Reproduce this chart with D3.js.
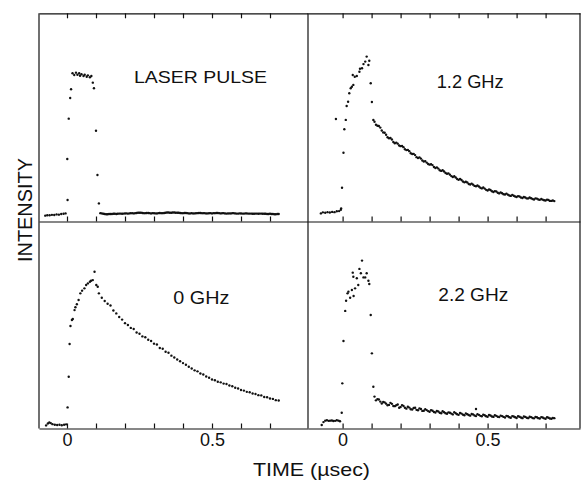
<!DOCTYPE html>
<html>
<head>
<meta charset="utf-8">
<script src="https://cdn.jsdelivr.net/npm/d3@7"></script>
<style>
  body { margin: 0; background: #fff; }
  svg { display: block; }
  text { font-family: "Liberation Sans", Arial, sans-serif; fill: #111; }
</style>
</head>
<body>
<div id="chart"></div>
<script>
// values; time in µs, intensity in arbitrary units (0-100 = panel height)
const tickTimes = [0, 0.1, 0.2, 0.3, 0.4, 0.5, 0.6, 0.7];
const tickLabels = ["0", "", "", "", "", "0.5", "", ""];

// channel times shared by the tails
const tailTimes = [
  0.11, 0.12, 0.13, 0.14, 0.15, 0.16, 0.17, 0.18, 0.19, 0.20,
  0.21, 0.22, 0.23, 0.24, 0.25, 0.26, 0.27, 0.28, 0.29, 0.30,
  0.31, 0.32, 0.33, 0.34, 0.35, 0.36, 0.37, 0.38, 0.39, 0.40,
  0.41, 0.42, 0.43, 0.44, 0.45, 0.46, 0.47, 0.48, 0.49, 0.50,
  0.51, 0.52, 0.53, 0.54, 0.55, 0.56, 0.57, 0.58, 0.59, 0.60,
  0.61, 0.62, 0.63, 0.64, 0.65, 0.66, 0.67, 0.68, 0.69, 0.70,
  0.71, 0.72, 0.73
];
// in-between channels (denser traces)
const midTimes = [
  0.115, 0.125, 0.135, 0.145, 0.155, 0.165, 0.175, 0.185, 0.195, 0.205,
  0.215, 0.225, 0.235, 0.245, 0.255, 0.265, 0.275, 0.285, 0.295, 0.305,
  0.315, 0.325, 0.335, 0.345, 0.355, 0.365, 0.375, 0.385, 0.395, 0.405,
  0.415, 0.425, 0.435, 0.445, 0.455, 0.465, 0.475, 0.485, 0.495, 0.505,
  0.515, 0.525, 0.535, 0.545, 0.555, 0.565, 0.575, 0.585, 0.595, 0.605,
  0.615, 0.625, 0.635, 0.645, 0.655, 0.665, 0.675, 0.685, 0.695, 0.705,
  0.715, 0.725
];

// LASER PULSE
const laserHead = [
  [-0.075, 2.8], [-0.068, 3.0], [-0.060, 3.0], [-0.052, 3.2], [-0.044, 3.1], [-0.036, 3.4],
  [-0.028, 3.3], [-0.020, 3.6], [-0.012, 3.7], [-0.005, 3.9],
  [0.002, 10.3], [0.001, 30.0], [0.006, 49.4], [0.011, 59.3], [0.014, 63.5],
  [0.019, 71.2], [0.025, 70.4], [0.031, 71.5], [0.036, 70.5], [0.042, 71.2], [0.045, 70.0],
  [0.050, 70.7], [0.057, 69.9], [0.061, 70.5], [0.068, 69.5], [0.072, 70.2], [0.079, 69.3],
  [0.084, 69.9], [0.089, 66.7], [0.093, 64.0],
  [0.100, 43.6], [0.105, 22.3]
];
const laserTail = [
  8.7, 3.9, 3.6, 3.5, 3.6, 3.7, 3.6, 3.8, 3.7, 3.9,
  3.8, 4.0, 3.9, 4.1, 4.2, 4.1, 4.0, 4.1, 3.9, 4.0,
  3.9, 4.1, 4.0, 4.2, 4.3, 4.2, 4.3, 4.2, 4.1, 4.0,
  4.1, 3.9, 4.0, 3.9, 4.0, 4.1, 4.0, 3.9, 4.0, 3.9,
  4.0, 4.1, 3.9, 4.0, 3.8, 3.9, 4.0, 3.9, 3.8, 3.9,
  3.8, 3.9, 3.8, 3.7, 3.8, 3.7, 3.8, 3.7, 3.6, 3.7,
  3.6, 3.5, 3.6
];
const laserMid = [
  4.0, 3.7, 3.5, 3.6, 3.6, 3.7, 3.7, 3.8, 3.8, 3.9,
  3.9, 4.0, 4.0, 4.2, 4.2, 4.0, 4.1, 4.0, 4.0, 3.9,
  4.0, 4.0, 4.1, 4.3, 4.2, 4.3, 4.2, 4.2, 4.0, 4.1,
  4.0, 3.9, 3.9, 4.0, 4.1, 4.0, 4.0, 3.9, 4.0, 4.0,
  4.1, 4.0, 4.0, 3.9, 3.9, 3.9, 4.0, 3.8, 3.9, 3.8,
  3.9, 3.8, 3.8, 3.7, 3.8, 3.8, 3.7, 3.7, 3.6, 3.6,
  3.5, 3.6
];

// 1.2 GHz
const ghz12Head = [
  [-0.075, 3.9], [-0.068, 4.4], [-0.060, 4.2], [-0.052, 4.5], [-0.044, 4.3], [-0.036, 4.6],
  [-0.028, 4.5], [-0.020, 4.9], [-0.012, 5.0], [-0.006, 5.6],
  [-0.023, 49.2],
  [-0.005, 6.3], [-0.002, 16.2], [0.003, 33.0], [0.006, 44.3], [0.011, 48.8], [0.014, 55.5],
  [0.019, 57.5], [0.023, 61.6], [0.028, 64.0], [0.032, 64.7], [0.035, 70.4], [0.037, 65.6],
  [0.042, 69.5], [0.049, 69.9], [0.058, 71.9], [0.060, 73.4], [0.067, 73.6], [0.072, 75.6],
  [0.078, 76.8], [0.083, 79.2], [0.089, 75.2], [0.092, 77.2], [0.097, 66.4], [0.101, 57.4],
  [0.106, 48.8]
];
const ghz12Tail = [
  47.9, 46.0, 45.1, 42.8, 41.7, 40.0, 39.4, 37.6, 37.4, 36.2,
  35.7, 34.3, 33.8, 32.4, 31.9, 30.5, 30.2, 28.8, 28.3, 27.3,
  27.1, 25.7, 25.4, 24.3, 24.0, 22.9, 22.5, 21.4, 21.1, 20.0,
  19.9, 18.8, 18.7, 17.8, 17.7, 16.9, 16.8, 15.9, 15.8, 14.9,
  15.1, 14.2, 14.4, 13.5, 13.6, 13.0, 12.9, 12.3, 12.4, 11.8,
  12.0, 11.3, 11.5, 11.1, 11.2, 10.6, 11.0, 10.4, 10.5, 10.1,
  10.3, 9.9, 9.8
];
const ghz12Mid = [
  46.5, 45.9, 43.7, 42.6, 40.5, 40.1, 38.2, 37.9, 36.5, 36.3,
  34.7, 34.4, 32.8, 32.5, 30.9, 30.8, 29.3, 29.0, 27.6, 27.5,
  26.2, 26.0, 24.6, 24.6, 23.3, 23.1, 21.8, 21.7, 20.4, 20.4,
  19.2, 19.1, 18.0, 18.2, 17.1, 17.3, 16.2, 16.3, 15.2, 15.4,
  14.5, 14.6, 13.8, 14.0, 13.1, 13.4, 12.5, 12.8, 12.0, 12.2,
  11.5, 11.8, 11.1, 11.5, 10.8, 11.1, 10.6, 10.8, 10.2, 10.5,
  9.9, 10.1
];

// 0 GHz
const ghz0Head = [
  [-0.072, 1.5], [-0.066, 2.4], [-0.061, 2.9], [-0.056, 2.6], [-0.050, 2.1], [-0.042, 1.8],
  [-0.034, 1.7], [-0.026, 1.8], [-0.018, 1.6], [-0.010, 1.8], [-0.003, 2.0],
  [0.002, 10.2], [0.006, 25.0], [0.009, 40.8], [0.012, 49.5], [0.017, 52.4], [0.020, 52.9],
  [0.026, 57.2], [0.029, 58.6], [0.034, 60.0], [0.040, 62.1], [0.046, 65.3], [0.052, 66.6],
  [0.060, 67.7], [0.066, 69.3], [0.072, 70.1], [0.079, 70.9], [0.083, 71.4], [0.089, 71.7],
  [0.095, 75.7], [0.101, 69.3], [0.106, 68.5]
];
const ghz0Tail = [
  65.3, 63.2, 61.6, 60.3, 59.4, 57.0, 55.6, 53.9, 52.6, 50.9,
  50.0, 48.6, 48.1, 46.4, 45.8, 44.5, 44.1, 42.9, 42.3, 41.0,
  40.6, 38.9, 38.5, 37.1, 36.6, 35.2, 34.3, 33.3, 32.5, 31.6,
  30.8, 29.8, 29.0, 28.1, 27.6, 26.6, 26.1, 25.1, 24.5, 23.7,
  23.3, 22.6, 22.3, 21.7, 21.5, 20.8, 20.4, 19.7, 19.3, 18.6,
  18.3, 17.7, 17.5, 16.9, 16.7, 16.1, 16.0, 15.2, 15.1, 14.5,
  14.3, 13.7, 13.5
];
const ghz0Mid = [];

// 2.2 GHz
const ghz22Head = [
  [-0.072, 1.7], [-0.066, 3.1], [-0.060, 3.8], [-0.054, 4.0], [-0.048, 3.7], [-0.043, 3.8],
  [-0.037, 3.9], [-0.032, 3.6], [-0.026, 3.7], [-0.020, 4.0], [-0.014, 3.8], [-0.009, 3.5],
  [-0.003, 7.6],
  [-0.001, 21.8], [0.003, 42.3], [0.009, 56.8], [0.012, 61.7], [0.017, 65.3], [0.020, 66.1],
  [0.026, 63.2], [0.032, 66.9], [0.035, 75.3], [0.037, 73.3], [0.038, 64.0], [0.043, 67.7],
  [0.049, 72.6], [0.054, 69.3], [0.058, 77.1], [0.063, 75.0], [0.067, 81.1], [0.072, 73.0],
  [0.078, 73.0], [0.083, 75.0], [0.089, 71.4], [0.092, 69.8], [0.097, 54.8], [0.101, 36.3],
  [0.106, 20.2],
  [0.46, 9.4]
];
const ghz22Tail = [
  15.4, 14.2, 13.0, 12.8, 12.0, 11.4, 11.9, 10.8, 11.6, 10.4,
  10.9, 9.6, 10.1, 9.2, 10.0, 8.8, 9.4, 8.6, 8.9, 8.1,
  8.6, 7.7, 8.2, 7.4, 7.9, 7.1, 7.6, 6.8, 7.4, 6.6,
  7.2, 6.4, 6.9, 6.2, 6.8, 6.0, 6.6, 5.9, 6.4, 5.7,
  6.3, 5.6, 6.1, 5.5, 6.0, 5.3, 5.9, 5.2, 5.8, 5.1,
  5.7, 5.0, 5.6, 5.0, 5.5, 4.9, 5.4, 4.8, 5.3, 4.7,
  5.2, 4.7, 5.0
];
const ghz22Mid = [
  13.6, 14.0, 12.1, 12.6, 11.2, 12.4, 10.9, 11.2, 10.0, 11.3,
  10.0, 10.5, 9.3, 9.9, 9.0, 9.7, 8.5, 9.3, 8.4, 8.9,
  8.0, 8.5, 7.6, 8.3, 7.4, 7.8, 7.2, 7.9, 6.9, 7.5,
  6.7, 7.3, 6.5, 7.0, 6.3, 6.9, 6.1, 6.7, 5.9, 6.5,
  5.8, 6.4, 5.7, 6.2, 5.6, 6.1, 5.4, 6.0, 5.4, 5.9,
  5.3, 5.8, 5.2, 5.7, 5.1, 5.6, 5.0, 5.5, 4.9, 5.4,
  4.8, 5.1
];

function main() {
    let width = 581;
    let height = 480;

    let svg = d3.select("#chart").append("svg")
        .attr("width", width)
        .attr("height", height);

    // layout of the 2x2 grid (pixels)
    const colX = { left: [39, 308], right: [308, 580] };
    const zeroX = { left: 67, right: 342.6 };
    const rowY = { top: [13.3, 221.5], bottom: [221.5, 428.5] };
    const pxPerUs = 290;

    function xScaleFor(col) {
        let [x1, x2] = colX[col];
        return d3.scaleLinear()
            .domain([(x1 - zeroX[col]) / pxPerUs, (x2 - zeroX[col]) / pxPerUs])
            .range([x1, x2]);
    }
    function yScaleFor(row) {
        return d3.scaleLinear().domain([0, 100]).range([rowY[row][1], rowY[row][0]]);
    }

    const panels = [
        { label: "LASER PULSE", head: laserHead, tail: laserTail, mid: laserMid, col: "left", row: "top",
          lx: 134, ly: 83.3, lw: 133, fs: 17 },
        { label: "1.2 GHz", head: ghz12Head, tail: ghz12Tail, mid: ghz12Mid, col: "right", row: "top",
          lx: 436.7, ly: 88.3, lw: 67, fs: 18 },
        { label: "0 GHz", head: ghz0Head, tail: ghz0Tail, mid: ghz0Mid, col: "left", row: "bottom",
          lx: 173.3, ly: 304, lw: 56, fs: 18 },
        { label: "2.2 GHz", head: ghz22Head, tail: ghz22Tail, mid: ghz22Mid, col: "right", row: "bottom",
          lx: 438.3, ly: 300.7, lw: 70, fs: 18 }
    ];

    panels.forEach(function(p) {
        let x = xScaleFor(p.col);
        let y = yScaleFor(p.row);
        let g = svg.append("g");

        // bottom axis, ticks pointing up into the panel
        let bottom = g.append("g")
            .attr("transform", "translate(0," + rowY[p.row][1] + ")")
            .call(d3.axisBottom(x)
                .tickValues(tickTimes)
                .tickSizeInner(-5)
                .tickSizeOuter(0)
                .tickPadding(5)
                .tickFormat(function(d, i) { return p.row === "bottom" ? tickLabels[i] : ""; }));
        bottom.selectAll("text")
            .attr("font-size", 18)
            .attr("font-family", "Liberation Sans, Arial, sans-serif")
            .attr("fill", "#111");

        if (p.row === "top") {
            g.append("g")
                .attr("transform", "translate(0," + rowY.top[0] + ")")
                .call(d3.axisTop(x)
                    .tickValues(tickTimes)
                    .tickSizeInner(-5)
                    .tickSizeOuter(0)
                    .tickFormat(""));
        }

        g.selectAll(".domain, .tick line")
            .attr("stroke", "#111")
            .attr("stroke-width", 1.2);

        let pts = p.head
            .concat(p.tail.map(function(v, i) { return [tailTimes[i], v]; }))
            .concat(p.mid.map(function(v, i) { return [midTimes[i], v]; }));
        g.append("g")
            .selectAll("circle")
            .data(pts)
            .enter()
            .append("circle")
            .attr("cx", function(d) { return x(d[0]); })
            .attr("cy", function(d) { return y(d[1]); })
            .attr("r", 1.2)
            .attr("fill", "#111");

        g.append("text")
            .attr("x", p.lx)
            .attr("y", p.ly)
            .attr("font-size", p.fs)
            .attr("textLength", p.lw)
            .attr("lengthAdjust", "spacingAndGlyphs")
            .text(p.label);
    });

    // vertical frame lines
    [39, 308, 580].forEach(function(xv) {
        svg.append("line")
            .attr("x1", xv).attr("x2", xv)
            .attr("y1", rowY.top[0]).attr("y2", rowY.bottom[1])
            .attr("stroke", "#111")
            .attr("stroke-width", 1.2);
    });

    svg.append("text")
        .attr("x", 311.5)
        .attr("y", 476)
        .attr("text-anchor", "middle")
        .attr("font-size", 19)
        .attr("textLength", 117)
        .attr("lengthAdjust", "spacingAndGlyphs")
        .text("TIME (\u00b5sec)");

    svg.append("text")
        .attr("transform", "translate(32,210) rotate(-90)")
        .attr("text-anchor", "middle")
        .attr("font-size", 21)
        .attr("textLength", 104)
        .attr("lengthAdjust", "spacingAndGlyphs")
        .text("INTENSITY");
}

main();
</script>
</body>
</html>
